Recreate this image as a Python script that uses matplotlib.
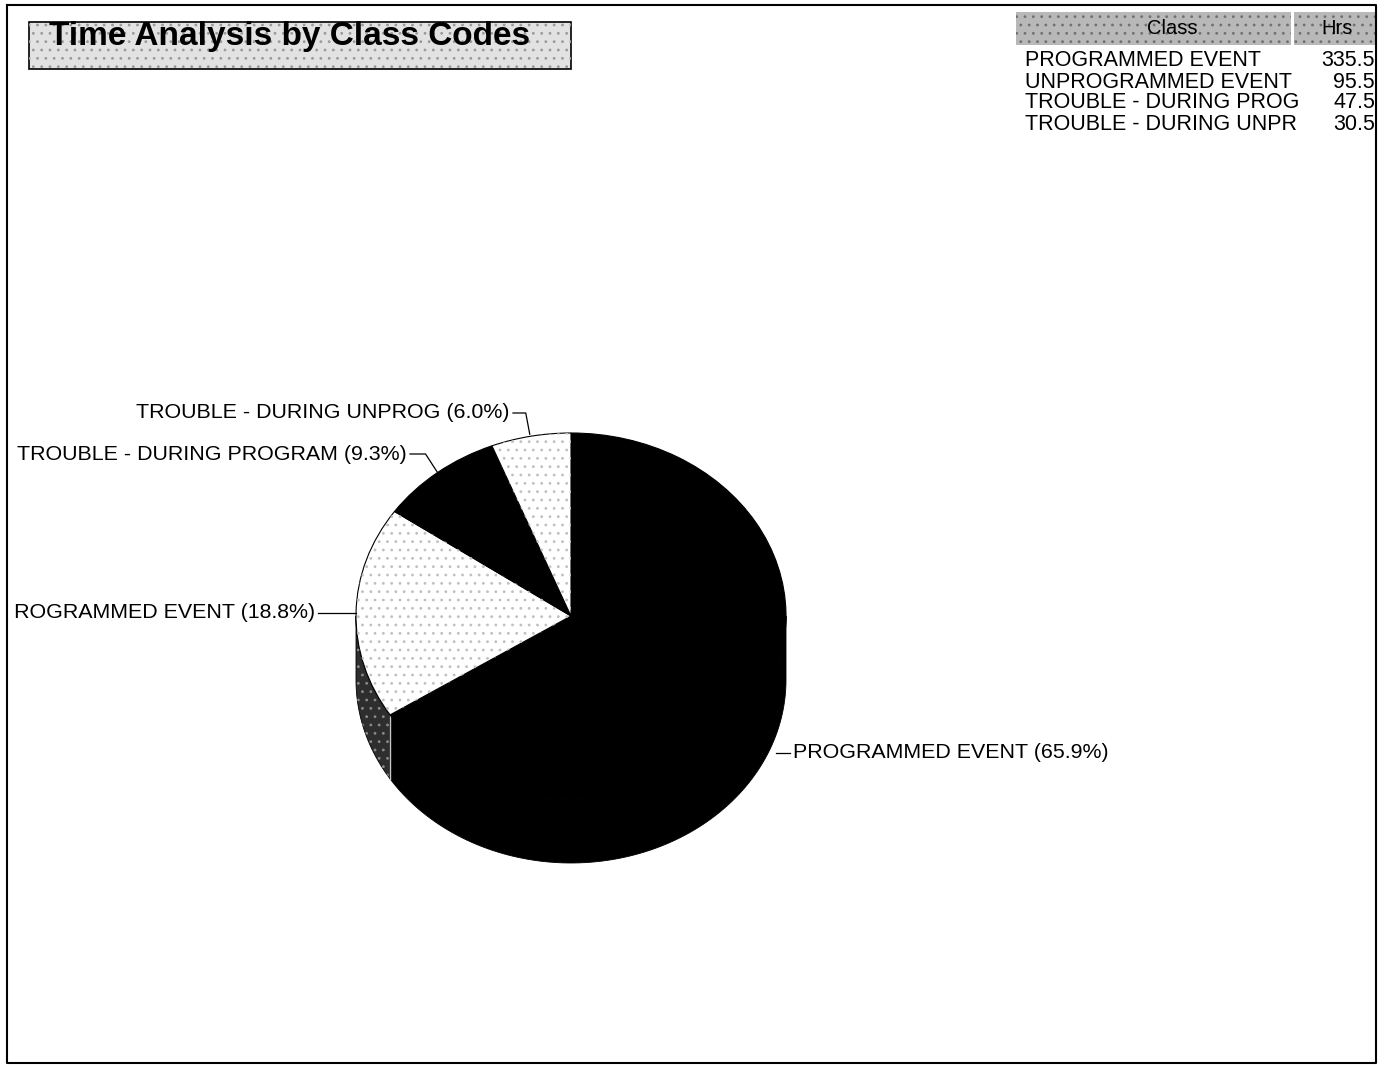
import numpy as np
import matplotlib
matplotlib.use("Agg")
import matplotlib.pyplot as plt
from matplotlib.patches import Rectangle, Polygon, Wedge
from matplotlib.transforms import Bbox

plt.rcParams['font.family'] = ['Liberation Sans', 'DejaVu Sans']
plt.rcParams['hatch.linewidth'] = 0.8

# class codes and hours
classes = ["PROGRAMMED EVENT", "UNPROGRAMMED EVENT",
           "TROUBLE - DURING PROGRAM", "TROUBLE - DURING UNPROG"]
table_names = ["PROGRAMMED EVENT", "UNPROGRAMMED EVENT",
               "TROUBLE - DURING PROG", "TROUBLE - DURING UNPR"]
hours = [335.5, 95.5, 47.5, 30.5]
face_colors = ["black", "white", "black", "white"]
side_colors = ["black", "#2e2e2e", "black", "#2e2e2e"]
stipple = [False, True, False, True]

W, H = 1387, 1067
CX, CY = 571, 616          # pie centre (px)
RX, RY = 215, 183          # top-face radii (px)
DEPTH = 64                 # thickness of the pie (px)

fig = plt.figure(figsize=(W / 100, H / 100), dpi=100)

# pie axes: unit circle maps onto the tilted top face
ax = fig.add_axes([0, 0, 1, 1])
wedges, _ = ax.pie(hours, colors=face_colors, startangle=90, counterclock=False,
                   wedgeprops=dict(edgecolor="black", linewidth=0.8, zorder=3))
ax.set_aspect("auto")
ax.set_xlim(-CX / RX, (W - CX) / RX)
ax.set_ylim((CY - H) / RY, CY / RY)
ax.axis("off")

d = DEPTH / RY
for w, sc, st in zip(wedges, side_colors, stipple):
    if st:
        ax.add_patch(Wedge((0, 0), 1, w.theta1, w.theta2, facecolor="none",
                           edgecolor="#c0c0c0", linewidth=0, hatch="..", zorder=4))
    # side wall for the part of the wedge facing the viewer
    for lo, hi in [(-180, 0), (180, 360)]:
        a0, a1 = max(w.theta1, lo), min(w.theta2, hi)
        if a1 <= a0:
            continue
        t = np.radians(np.linspace(a0, a1, 100))
        xs = np.concatenate([np.cos(t), np.cos(t[::-1])])
        ys = np.concatenate([np.sin(t), np.sin(t[::-1]) - d])
        ax.add_patch(Polygon(np.column_stack([xs, ys]), closed=True, facecolor=sc,
                             edgecolor="black", linewidth=0.6, zorder=2))
        if st:
            ax.add_patch(Polygon(np.column_stack([xs, ys]), closed=True, facecolor="none",
                                 edgecolor="#8a8a8a", linewidth=0, hatch="..", zorder=2.5))
            # light seam where this wall meets the next one
            ax.plot([np.cos(t[-1])] * 2, [np.sin(t[-1]), np.sin(t[-1]) - d],
                    color="#c8c8c8", lw=1.0, zorder=2.6)

# overlay in pixel coordinates for frame, title, table and labels
ov = fig.add_axes([0, 0, 1, 1], facecolor="none")
ov.set_xlim(0, W)
ov.set_ylim(H, 0)
ov.axis("off")

ov.plot([7, 1376, 1376, 7, 7], [5, 5, 1063, 1063, 5], color="black", lw=1.5)

# title box
ov.add_patch(Rectangle((29, 22), 542, 47, facecolor="#e2e2e2", edgecolor="black", lw=1.2))
ov.add_patch(Rectangle((29, 22), 542, 47, facecolor="none", edgecolor="#9a9a9a", lw=0,
                       hatch=".."))
ov.text(290, 36, "Time Analysis by Class Codes", fontsize=24, fontweight="bold",
        ha="center", va="center")

# summary table
ov.add_patch(Rectangle((1016, 12), 275, 33, facecolor="#b8b8b8", edgecolor="none"))
ov.add_patch(Rectangle((1294, 12), 82, 33, facecolor="#b8b8b8", edgecolor="none"))
for x0, wd in [(1016, 275), (1294, 82)]:
    ov.add_patch(Rectangle((x0, 12), wd, 33, facecolor="none", edgecolor="#707070",
                           lw=0, hatch=".."))
ov.text(1172, 28, "Class", fontsize=14.5, ha="center", va="center")
ov.text(1337, 28, "Hrs", fontsize=14.5, ha="center", va="center")
for i, (name, h) in enumerate(zip(table_names, hours)):
    y = 61 + 21 * i
    ov.text(1025, y, name, fontsize=15.5, ha="left", va="center")
    ov.text(1375, y, f"{h:.1f}", fontsize=15.5, ha="right", va="center")

# slice labels with leader lines
total = sum(hours)
clip = Bbox.from_extents(15, 0, W, H)
mids = [np.radians((w.theta1 + w.theta2) / 2) for w in wedges]
label_pos = [(793, 753, "left"), (315, 613, "right"), (407, 454, "right"), (510, 413, "right")]
for k, (name, h, m, (lx, ly, ha)) in enumerate(zip(classes, hours, mids, label_pos)):
    txt = ov.text(lx, ly, f"{name} ({100 * h / total:.1f}%)", fontsize=15.4,
                  ha=ha, va="center")
    txt.set_clip_on(True)
    txt.set_clip_box(clip)
    ax_x = CX + RX * np.cos(m)
    ax_y = CY - RY * np.sin(m)
    if k == 0:
        ov.plot([lx - 17, lx - 3], [ly, ly], color="black", lw=0.9)
    elif k == 1:
        ov.plot([ax_x, lx + 3], [ly, ly], color="black", lw=0.9)
    elif k == 2:
        ov.plot([lx + 3, ax_x - 12, ax_x], [ly, ly, ax_y], color="black", lw=0.9)
    else:
        ov.plot([lx + 3, ax_x - 5, ax_x - 1], [ly, ly, ax_y - 2], color="black", lw=0.9)

fig.savefig("out.png", dpi=100, facecolor="white")
